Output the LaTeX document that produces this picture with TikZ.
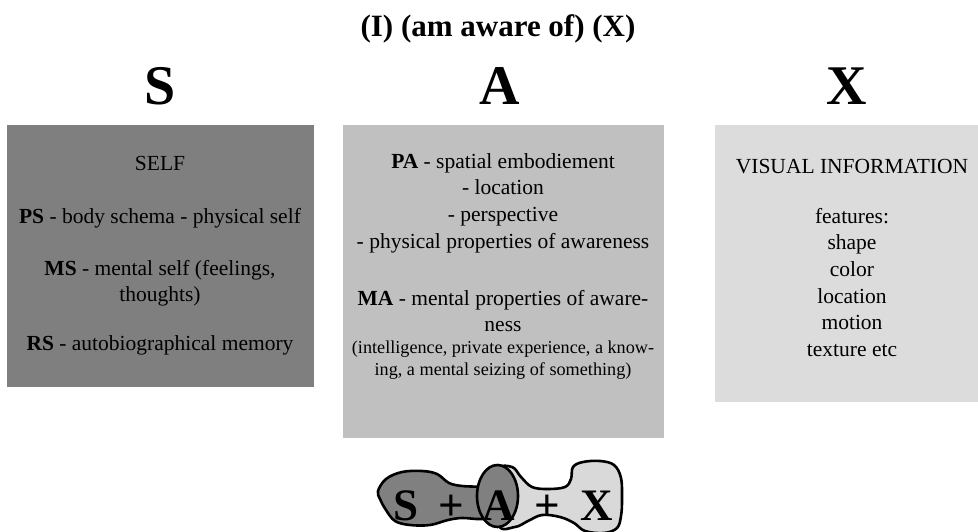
\documentclass[tikz,border=0pt]{standalone}
\usepackage{fontspec}
\setmainfont{Liberation Serif}
\usetikzlibrary{shapes.geometric}
\definecolor{selfgray}{HTML}{7F7F7F}
\definecolor{awaregray}{HTML}{C0C0C0}
\definecolor{infogray}{HTML}{DCDCDC}
\definecolor{blobdark}{HTML}{808080}
\definecolor{bloblight}{HTML}{D9D9D9}
\newcommand{\bodyfont}{\fontsize{21.5}{26.7}\selectfont}
\newcommand{\smallbodyfont}{\fontsize{18.2}{22}\selectfont}
\tikzset{
  panel/.style={inner sep=0pt},
  boxtext/.style={anchor=north, inner sep=0pt, align=center, font=\bodyfont},
  smalltext/.style={anchor=north, inner sep=0pt, align=center, font=\smallbodyfont},
  bigletter/.style={anchor=base, inner sep=0pt, font=\fontsize{56}{60}\selectfont\bfseries},
  eqletter/.style={anchor=base, inner sep=0pt, font=\fontsize{45}{50}\selectfont\bfseries},
  outline/.style={line width=2.6pt, line join=round}
}
\begin{document}
\begin{tikzpicture}[x=1pt,y=-1pt]
\useasboundingbox (0,0) rectangle (978,532);

% title and column letters
\node[anchor=base, inner sep=0pt, font=\fontsize{31}{34}\selectfont\bfseries] (title) at (498,37) {(I) (am aware of) (X)};
\node[bigletter] (S) at (160,105) {S};
\node[bigletter] (A) at (500,105) {A};
\node[bigletter] (X) at (847,105) {X};

% three panels
\fill[selfgray] (7,125) rectangle (314,387);
\fill[awaregray] (343,125) rectangle (664,438);
\fill[infogray] (715,125) rectangle (978,402);

% SELF panel
\node[boxtext] (self) at (160,151.3) {\strut SELF};
\node[boxtext] (ps) at (160,204.3) {\strut\textbf{PS} - body schema - physical self};
\node[boxtext] (ms) at (160,256.3) {\strut\textbf{MS} - mental self (feelings,\\thoughts)};
\node[boxtext] (rs) at (160,331.3) {\strut\textbf{RS} - autobiographical memory};

% awareness panel
\node[boxtext] (pa) at (503,149.3) {\strut\textbf{PA} - spatial embodiement\\- location\\- perspective\\- physical properties of awareness};
\node[boxtext] (ma) at (503,286.3) {\strut\textbf{MA} - mental properties of aware-\\ness};
\node[smalltext] (mad) at (503,337.6) {\strut(intelligence, private experience, a know-\\ing, a mental seizing of something)};

% visual information panel
\node[boxtext] (vi) at (852,154.3) {\strut VISUAL INFORMATION};
\node[boxtext] (feat) at (852,204.3) {\strut features:\\shape\\color\\location\\motion\\texture etc};

% S + A + X blobs
\draw[outline, fill=bloblight] plot[smooth cycle, tension=0.6] coordinates {
  (498,472) (512,467) (521,477) (532,487) (548,489) (565,487) (571,479)
  (573,467) (583,462) (600,461) (614,465) (621,478) (622,500) (621,516)
  (617,528) (604,533) (585,531) (574,523) (560,517) (542,515) (528,521)
  (515,527) (498,524)};
\draw[outline, fill=blobdark] plot[smooth cycle, tension=0.6] coordinates {
  (378,491) (386,479) (402,472) (422,471) (437,474) (449,483) (462,486)
  (480,487) (492,490) (492,516) (480,519) (462,518) (448,520) (430,525)
  (410,525) (395,521) (386,510) (380,499)};
\draw[outline, fill=blobdark] (497.5,496) ellipse[x radius=20.5, y radius=31];

\node[eqletter] (eS) at (406,520) {S};
\node[eqletter] (p1) at (451,520) {+};
\node[eqletter] (eA) at (499,520) {A};
\node[eqletter] (p2) at (547,520) {+};
\node[eqletter] (eX) at (597,520) {X};
\end{tikzpicture}
\end{document}
